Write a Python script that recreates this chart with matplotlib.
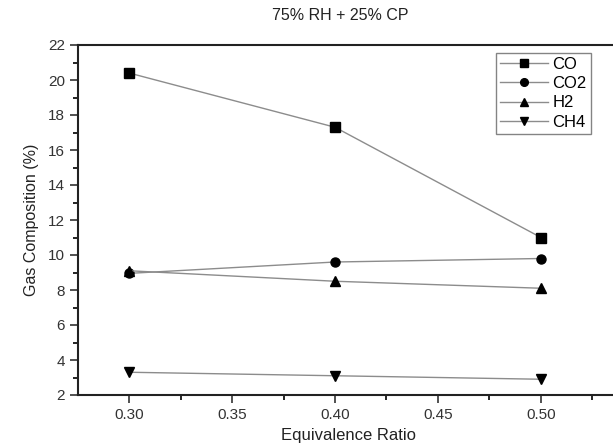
import matplotlib
matplotlib.use("Agg")
import matplotlib.pyplot as plt
from matplotlib.ticker import MultipleLocator

plt.rcParams['font.family'] = ['Liberation Sans', 'DejaVu Sans']

x = [0.30, 0.40, 0.50]
co = [20.4, 17.3, 11.0]
co2 = [8.95, 9.6, 9.8]
h2 = [9.1, 8.5, 8.1]
ch4 = [3.3, 3.1, 2.9]
labels = ['CO', 'CO2', 'H2', 'CH4']
markers = ['s', 'o', '^', 'v']

fig = plt.figure(figsize=(6.13, 4.46), dpi=100)
ax = fig.add_axes([78/613, 51/446, (619-78)/613, 350/446])

for ys, lab, m in zip([co, co2, h2, ch4], labels, markers):
    ax.plot(x, ys, color='#8c8c8c', lw=1.0, marker=m, markersize=6.5,
            markerfacecolor='black', markeredgecolor='black', label=lab)

ax.set_xlim(0.2752, 0.5379)
ax.set_ylim(2, 22)
ax.set_xticks([0.30, 0.35, 0.40, 0.45, 0.50])
ax.set_xticklabels(['0.30', '0.35', '0.40', '0.45', '0.50'])
ax.set_yticks(range(2, 23, 2))
ax.xaxis.set_minor_locator(MultipleLocator(0.025))
ax.yaxis.set_minor_locator(MultipleLocator(1))
ax.tick_params(which='major', direction='out', length=6, width=1.2, labelsize=11, colors='#333333')
ax.tick_params(which='minor', direction='out', length=3.5, width=1.2)
ax.tick_params(top=False, right=False)
ax.spines['right'].set_visible(False)
for s in ['left', 'bottom', 'top']:
    ax.spines[s].set_linewidth(1.5)
    ax.spines[s].set_color('#222222')

ax.set_xlabel('Equivalence Ratio', fontsize=12, color='#222222', labelpad=4)
ax.set_ylabel('Gas Composition (%)', fontsize=11.5, color='#222222', labelpad=6)
fig.text(340/613, 1 - 16/446, '75% RH + 25% CP', ha='center', va='center', fontsize=11.5, color='#222222')

leg = ax.legend(loc='upper right', bbox_to_anchor=((591-78)/541, (395-53)/350),
                frameon=True, fancybox=False, edgecolor='#666666', fontsize=12,
                handlelength=2.9, borderpad=0.25, labelspacing=0.25, handletextpad=0.25,
                borderaxespad=0, markerscale=0.85)
leg.get_frame().set_linewidth(1.0)

fig.savefig('out.png', dpi=100)
